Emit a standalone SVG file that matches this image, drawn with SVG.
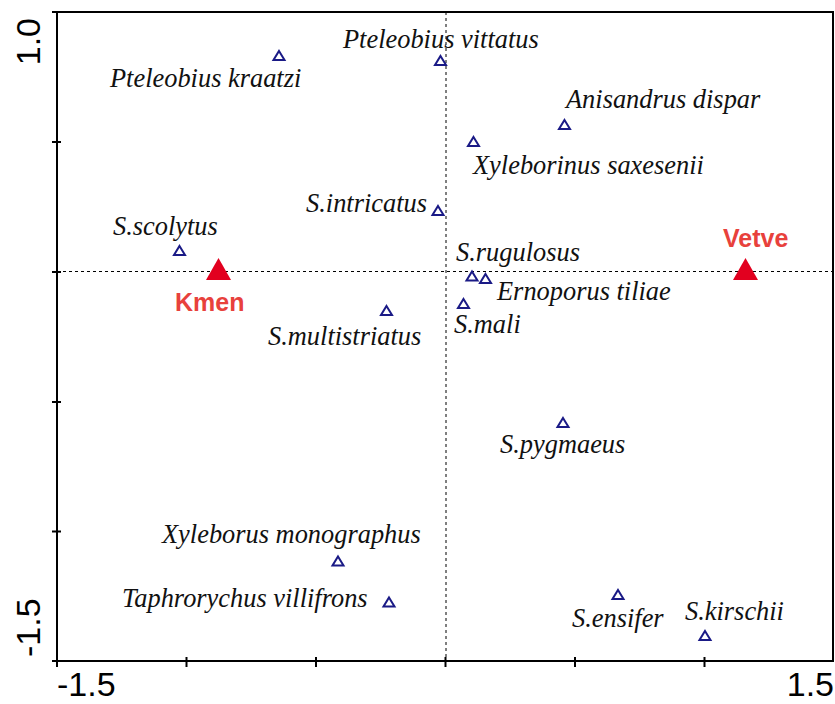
<svg xmlns="http://www.w3.org/2000/svg" xmlns:xlink="http://www.w3.org/1999/xlink" width="835" height="704" viewBox="0 0 835 704">
<style>
.lbl{font-family:"Liberation Serif","Times New Roman",serif;font-style:italic;font-size:26.4px;fill:#111}
.ax{font-family:"Liberation Sans",Arial,sans-serif;font-size:34px;fill:#000}
.env{font-family:"Liberation Sans",Arial,sans-serif;font-weight:bold;font-size:25px;fill:#e8413c}
.sp{fill:none;stroke:#1a1a86;stroke-width:2}
.envm{fill:#e2001f}
.frame{fill:none;stroke:#000;stroke-width:2}
.tick{stroke:#000;stroke-width:2}
.dash{stroke:#000;stroke-width:1;stroke-dasharray:3 3;fill:none}
</style>
<defs>
<path id="tri" d="M0,-4.5 L5.5,4.5 L-5.5,4.5 Z"/>
</defs>
<rect width="835" height="704" fill="#fff"/>
<g id="axes">
<line class="dash" x1="57" y1="271.5" x2="833" y2="271.5"/>
<line class="dash" x1="446" y1="12" x2="446" y2="661"/>
<rect class="frame" x="57" y="12" width="776" height="649"/>
<g class="tick">
<line x1="52" y1="12" x2="61" y2="12"/>
<line x1="52" y1="142" x2="61" y2="142"/>
<line x1="52" y1="272" x2="61" y2="272"/>
<line x1="52" y1="402" x2="61" y2="402"/>
<line x1="52" y1="531.5" x2="61" y2="531.5"/>
<line x1="52" y1="661" x2="61" y2="661"/>
<line x1="57" y1="657" x2="57" y2="667"/>
<line x1="186.5" y1="657" x2="186.5" y2="667"/>
<line x1="316" y1="657" x2="316" y2="667"/>
<line x1="445.5" y1="657" x2="445.5" y2="667"/>
<line x1="575" y1="657" x2="575" y2="667"/>
<line x1="704.5" y1="657" x2="704.5" y2="667"/>
</g>
<text class="ax" transform="translate(40,18) rotate(-90)" text-anchor="end">1.0</text>
<text class="ax" transform="translate(40,657) rotate(-90)">-1.5</text>
<text class="ax" x="57" y="696">-1.5</text>
<text class="ax" x="834" y="696" text-anchor="end">1.5</text>
</g>
<g id="connectors"/>
<g id="kmen"><path class="envm" d="M218.5,258 L231,280 L206,280 Z"/><text class="env" x="175" y="311">Kmen</text></g>
<g id="vetve"><path class="envm" d="M745.5,258 L758,280 L733,280 Z"/><text class="env" x="723" y="247">Vetve</text></g>
<g id="pteleobius-kraatzi"><use xlink:href="#tri" class="sp" x="279" y="55.5"/><text class="lbl" x="110" y="87">Pteleobius kraatzi</text></g>
<g id="pteleobius-vittatus"><use xlink:href="#tri" class="sp" x="440.5" y="60.5"/><text class="lbl" x="343" y="48">Pteleobius vittatus</text></g>
<g id="anisandrus-dispar"><use xlink:href="#tri" class="sp" x="564.5" y="124.5"/><text class="lbl" x="566" y="108">Anisandrus dispar</text></g>
<g id="xyleborinus-saxesenii"><use xlink:href="#tri" class="sp" x="473.5" y="141.5"/><text class="lbl" x="473" y="174">Xyleborinus saxesenii</text></g>
<g id="s-intricatus"><use xlink:href="#tri" class="sp" x="438" y="210.5"/><text class="lbl" x="306" y="212">S.intricatus</text></g>
<g id="s-scolytus"><use xlink:href="#tri" class="sp" x="179.5" y="250.5"/><text class="lbl" x="113" y="235">S.scolytus</text></g>
<g id="s-rugulosus"><use xlink:href="#tri" class="sp" x="472" y="276"/><text class="lbl" x="456" y="261">S.rugulosus</text></g>
<g id="ernoporus-tiliae"><use xlink:href="#tri" class="sp" x="485.5" y="278.5"/><text class="lbl" x="497" y="300">Ernoporus tiliae</text></g>
<g id="s-mali"><use xlink:href="#tri" class="sp" x="463.5" y="303.5"/><text class="lbl" x="454" y="333">S.mali</text></g>
<g id="s-multistriatus"><use xlink:href="#tri" class="sp" x="386.5" y="310.5"/><text class="lbl" x="268" y="345">S.multistriatus</text></g>
<g id="s-pygmaeus"><use xlink:href="#tri" class="sp" x="563" y="422.5"/><text class="lbl" x="500" y="453">S.pygmaeus</text></g>
<g id="xyleborus-monographus"><use xlink:href="#tri" class="sp" x="338" y="561"/><text class="lbl" x="162" y="543">Xyleborus monographus</text></g>
<g id="taphrorychus-villifrons"><use xlink:href="#tri" class="sp" x="389" y="602"/><text class="lbl" x="122" y="607">Taphrorychus villifrons</text></g>
<g id="s-ensifer"><use xlink:href="#tri" class="sp" x="618" y="594.5"/><text class="lbl" x="572" y="627">S.ensifer</text></g>
<g id="s-kirschii"><use xlink:href="#tri" class="sp" x="705" y="635.5"/><text class="lbl" x="685" y="620">S.kirschii</text></g>
</svg>
